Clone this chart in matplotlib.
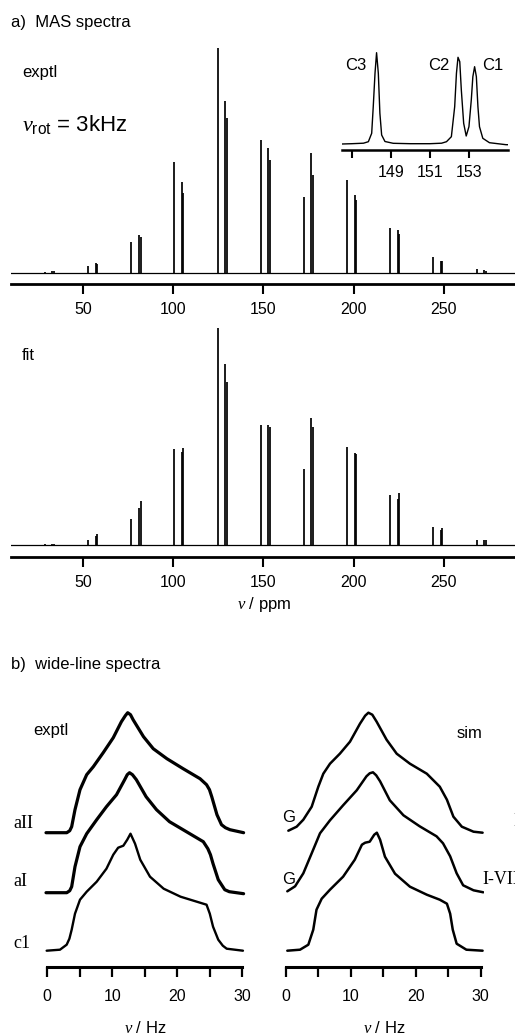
import matplotlib
matplotlib.use("Agg")
import matplotlib.pyplot as plt

plt.rcParams['font.family'] = ['Liberation Sans', 'DejaVu Sans']
plt.rcParams['mathtext.fontset'] = 'custom'
plt.rcParams['mathtext.it'] = 'Liberation Serif:italic'
plt.rcParams['mathtext.rm'] = 'Liberation Sans'

W, H = 515, 1035

# ---- a) MAS spectra: peak positions (ppm) per site, one per spinning sideband
c3_pos = [28.9, 52.9, 76.6, 100.4, 124.7, 148.5, 172.3, 196.2, 220.2, 244.2, 268.2]
c2_pos = [33.1, 57.2, 81.0, 104.8, 128.8, 152.6, 176.6, 200.6, 224.4, 248.4, 272.5]
c1_pos = [33.9, 58.0, 81.9, 105.7, 129.7, 153.5, 177.5, 201.5, 225.3, 249.3, 273.4]

# peak heights (arb. units)
exptl_c3 = [0.5, 6.7, 30.3, 110.3, 224.3, 132.7, 75.7, 92.7, 45.0, 16.0, 3.7]
exptl_c2 = [2.0, 9.7, 37.3, 90.7, 171.7, 124.3, 119.3, 77.7, 42.7, 11.7, 2.3]
exptl_c1 = [1.5, 8.5, 36.0, 80.0, 154.3, 112.7, 97.7, 72.7, 38.7, 11.7, 2.0]
fit_c3 = [1.0, 5.7, 26.7, 96.0, 217.7, 120.0, 76.0, 98.3, 50.0, 18.3, 5.0]
fit_c2 = [1.7, 9.3, 37.7, 93.3, 181.0, 120.7, 127.3, 92.7, 46.0, 15.0, 5.0]
fit_c1 = [1.5, 11.7, 44.3, 97.3, 163.3, 118.3, 118.3, 91.7, 52.3, 17.7, 5.0]

mas_ticks = [50, 100, 150, 200, 250]

# inset: centre band region
inset_ppm = [146.5, 147.0, 147.6, 147.85, 148.02, 148.10, 148.19, 148.27, 148.36,
             148.44, 148.53, 148.70, 149.12, 150.0, 151.0, 151.6, 151.85, 152.10,
             152.27, 152.36, 152.44, 152.53, 152.61, 152.73, 152.86, 153.00, 153.12,
             153.20, 153.29, 153.38, 153.46, 153.54, 153.71, 154.05, 154.90, 155.2]
inset_int = [0.0, 0.3, 0.8, 2.3, 10.7, 37.3, 70.7, 91.3, 70.7,
             30.7, 9.0, 2.5, 0.7, 0.3, 0.3, 0.8, 2.3, 7.3,
             37.3, 70.7, 86.7, 82.3, 54.0, 20.7, 8.0, 17.3, 44.0,
             67.3, 77.3, 67.3, 37.3, 17.3, 5.7, 1.3, -0.7, -0.7]
inset_ticks = [147, 149, 151, 153]
inset_labels = ['', '149', '151', '153']

# ---- b) wide-line spectra (nu in Hz, intensity above own baseline)
ex_aII_x = [-0.2, 3.0, 3.45, 3.75, 4.26, 5.03, 6.06, 7.08, 8.6, 10.15, 11.4, 12.0, 12.37,
            12.8, 13.2, 14.8, 16.3, 18.4, 20.9, 23.5, 24.5, 24.95, 25.3, 26.1, 26.8,
            27.4, 28.1, 30.2]
ex_aII_y = [0, 0, 2, 6, 23, 43, 58, 66, 80, 95, 111, 117, 120,
            118, 113, 96, 84, 74, 64, 54, 48, 43, 36, 18, 8,
            5, 3, 0]
ex_aI_x = [-0.2, 3.0, 3.45, 3.75, 4.26, 5.03, 6.06, 7.6, 9.1, 10.65, 11.9, 12.3, 12.65,
           13.1, 13.7, 15.2, 16.8, 18.8, 21.4, 24.0, 24.7, 25.1, 25.5, 26.3, 27.3,
           28.0, 29.1, 30.2]
ex_aI_y = [0, 0, 2, 6, 26, 46, 59, 73, 86, 98, 113, 118, 120,
           118, 113, 96, 83, 71, 61, 51, 44, 38, 29, 13, 3,
           1, 0, -1]
ex_c1_x = [-0.1, 1.95, 2.98, 3.4, 3.75, 4.26, 5.03, 6.06, 7.6, 9.1, 10.15, 10.9, 11.7,
           12.3, 12.8, 13.5, 14.3, 15.8, 17.9, 20.5, 23.0, 24.5, 25.0, 25.5, 26.3,
           27.0, 27.6, 30.1]
ex_c1_y = [0, 1, 6, 12, 21, 37, 51, 59, 69, 82, 96, 103, 105,
           111, 117, 107, 91, 74, 62, 54, 49, 46, 37, 24, 11,
           5, 2, 0]

sim_top_x = [0.36, 1.64, 2.67, 3.96, 4.98, 5.75, 6.78, 8.3, 9.86, 11.4, 12.2, 12.7, 13.3,
             13.97, 15.5, 17.06, 19.1, 21.7, 23.7, 24.8, 25.8, 27.1, 28.9, 30.3]
sim_top_y = [2, 6, 13, 26, 46, 59, 69, 79, 91, 109, 117, 120, 118,
             111, 93, 79, 69, 59, 46, 33, 16, 6, 1, 0]
sim_mid_x = [0.2, 1.4, 2.67, 3.96, 5.24, 6.78, 8.8, 10.9, 12.4, 12.9, 13.4, 13.9, 14.5,
             16.0, 18.1, 20.6, 23.2, 24.2, 25.3, 26.3, 27.3, 28.9, 30.4]
sim_mid_y = [1, 6, 19, 39, 59, 72, 87, 102, 116, 119, 120, 117, 111,
             92, 77, 66, 56, 49, 36, 19, 7, 2, 0]
sim_bot_x = [0.2, 2.16, 3.44, 4.2, 4.7, 5.5, 6.78, 8.8, 10.6, 11.7, 12.2, 12.9, 13.6,
             14.0, 14.5, 15.25, 16.8, 19.1, 21.7, 23.7, 24.8, 25.3, 25.7, 26.3, 27.8, 30.3]
sim_bot_y = [0, 1, 6, 21, 41, 52, 61, 74, 91, 106, 108, 109, 116,
             118, 111, 94, 77, 64, 56, 51, 47, 37, 21, 7, 1, 0]

ex_offsets = [134.3, 74.3, 16.3]
sim_offsets = [134.3, 74.7, 16.3]

wl_ticks = [0, 5, 10, 15, 20, 25, 30]
wl_labels = ['0', '', '10', '', '20', '', '30']


def px_axes(fig, left, top, right, bottom):
    return fig.add_axes([left / W, 1 - bottom / H, (right - left) / W, (bottom - top) / H])


def only_bottom(ax, lw=2.0):
    for s in ['left', 'right', 'top']:
        ax.spines[s].set_visible(False)
    ax.spines['bottom'].set_linewidth(lw)
    ax.set_yticks([])
    ax.patch.set_alpha(0)


def ftext(fig, x, y, s, **kw):
    fig.text(x / W, 1 - y / H, s, va='center', **kw)


fig = plt.figure(figsize=(W / 100, H / 100), dpi=100)

# MAS panels
for top, bottom, h3, h2, h1 in [(32.7, 284.0, exptl_c3, exptl_c2, exptl_c1),
                                 (305.2, 556.7, fit_c3, fit_c2, fit_c1)]:
    ax = px_axes(fig, 10.8, top, 515.0, bottom)
    ax.axhline(0, color='k', lw=0.9)
    ax.vlines(c3_pos, 0, h3, color='k', lw=1.25)
    ax.vlines(c2_pos, 0, h2, color='k', lw=1.25)
    ax.vlines(c1_pos, 0, h1, color='k', lw=1.25)
    ax.set_xlim(10, 289.5)
    ax.set_ylim(-11.4, 240)
    only_bottom(ax)
    ax.set_xticks(mas_ticks)
    ax.tick_params(axis='x', direction='out', length=7, width=1.5, pad=6, labelsize=11.5)

# inset
axi = px_axes(fig, 342, 44, 508, 150)
axi.plot(inset_ppm, inset_int, color='k', lw=1.0)
axi.set_xlim(146.5, 155.0)
axi.set_ylim(-6, 100)
only_bottom(axi, lw=1.8)
axi.set_xticks(inset_ticks)
axi.set_xticklabels(inset_labels)
axi.tick_params(axis='x', direction='out', length=6, width=1.5, pad=5, labelsize=11.5)

# wide-line panels
ax_ex = px_axes(fig, 44.05, 707, 245.55, 967)
for xs, ys, off, lw in [(ex_aII_x, ex_aII_y, ex_offsets[0], 2.3),
                        (ex_aI_x, ex_aI_y, ex_offsets[1], 2.3),
                        (ex_c1_x, ex_c1_y, ex_offsets[2], 1.7)]:
    ax_ex.plot(xs, [v + off for v in ys], color='k', lw=lw,
               solid_joinstyle='round', solid_capstyle='round')

ax_sim = px_axes(fig, 282.76, 707, 483.9, 967)
for xs, ys, off in [(sim_top_x, sim_top_y, sim_offsets[0]),
                    (sim_mid_x, sim_mid_y, sim_offsets[1]),
                    (sim_bot_x, sim_bot_y, sim_offsets[2])]:
    ax_sim.plot(xs, [v + off for v in ys], color='k', lw=1.8,
                solid_joinstyle='round', solid_capstyle='round')

for ax in [ax_ex, ax_sim]:
    ax.set_xlim(-0.5, 30.5)
    ax.set_ylim(0, 260)
    only_bottom(ax, lw=2.2)
    ax.spines['bottom'].set_bounds(0, 30)
    ax.set_xticks(wl_ticks)
    ax.set_xticklabels(wl_labels)
    ax.tick_params(axis='x', direction='out', length=7, width=1.6, pad=9, labelsize=11.5)

# texts
sans = dict(fontsize=12)
serif = dict(fontsize=13, family='Liberation Serif')
ftext(fig, 11, 22, 'a)  MAS spectra', **sans)
ftext(fig, 22, 73, 'exptl', **sans)
ftext(fig, 22, 124, r'$\mathit{\nu}_{\rm rot}$ = 3kHz', fontsize=16)
ftext(fig, 345, 66, 'C3', **sans)
ftext(fig, 428, 66, 'C2', **sans)
ftext(fig, 482, 66, 'C1', **sans)
ftext(fig, 22, 355, 'fit', **sans)
fig.text(264 / W, 1 - 605 / H, r'$\mathit{\nu}$ / ppm', ha='center', va='center', **sans)

ftext(fig, 11, 665, 'b)  wide-line spectra', **sans)
ftext(fig, 33, 731, 'exptl', **sans)
ftext(fig, 457, 733, 'sim', **sans)
ftext(fig, 13, 823, 'aII', **serif)
ftext(fig, 13, 882, 'aI', **serif)
ftext(fig, 13, 943, 'c1', **serif)
ftext(fig, 282, 818, 'G', **sans)
ftext(fig, 282, 880, 'G', **sans)
ftext(fig, 482, 880, 'I-VII', **serif)
ftext(fig, 513, 822, 'I', **serif)
fig.text(145 / W, 1 - 1028 / H, r'$\mathit{\nu}$ / Hz', ha='center', va='center', **sans)
fig.text(384 / W, 1 - 1028 / H, r'$\mathit{\nu}$ / Hz', ha='center', va='center', **sans)

fig.savefig('out.png', dpi=100)
